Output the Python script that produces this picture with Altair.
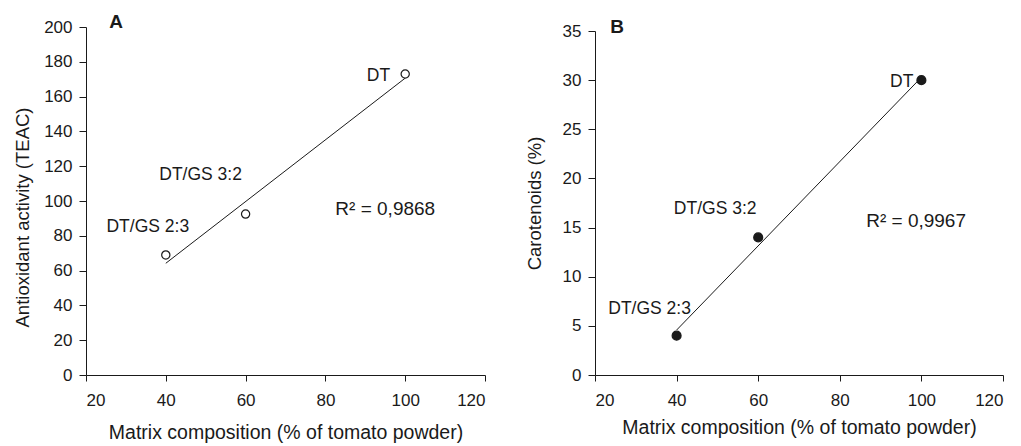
import altair as alt
import pandas as pd

samples = ["DT/GS 2:3", "DT/GS 3:2", "DT"]
tomato_pct = [40, 60, 100]
teac = [69, 92.5, 173]
carotenoids = [4, 14, 30]

x_ticks = [20, 40, 60, 80, 100, 120]
teac_ticks = [0, 20, 40, 60, 80, 100, 120, 140, 160, 180, 200]
car_ticks = [0, 5, 10, 15, 20, 25, 30, 35]

r2_a = "R² = 0,9868"
r2_b = "R² = 0,9967"

df = pd.DataFrame({"sample": samples, "pct": tomato_pct, "teac": teac, "car": carotenoids})

FONT = "Liberation Sans"
INK = "#1a1a1a"


def panel(ycol, ytitle, ydomain, yticks, letter, letter_pos, filled, r2text, r2pos,
          offsets, w, h, ytitle_pad, xtitle_pad, yrange, title_y=None):
    axis_kw = dict(values=yticks, title=ytitle, labelOverlap=False, titlePadding=ytitle_pad)
    if title_y is not None:
        axis_kw["titleY"] = title_y
    xenc = alt.X("pct:Q", scale=alt.Scale(domain=[20, 120], nice=False),
                 axis=alt.Axis(values=x_ticks, title="Matrix composition (% of tomato powder)",
                               labelOverlap=False, titlePadding=xtitle_pad))
    yenc = alt.Y(f"{ycol}:Q", scale=alt.Scale(domain=ydomain, nice=False, range=yrange),
                 axis=alt.Axis(**axis_kw))
    base = alt.Chart(df)
    line = base.transform_regression("pct", ycol).mark_line(
        color=INK, strokeWidth=1).encode(x=xenc, y=yenc)
    pts = base.mark_point(shape="circle", filled=True, size=80 if filled else 68,
                          fill=INK if filled else "white", stroke=INK,
                          strokeWidth=1.2, opacity=1).encode(x=xenc, y=yenc)
    layers = [line, pts]
    for s in samples:
        dx, dy, al = offsets[s]
        layers.append(
            base.transform_filter(alt.datum.sample == s).mark_text(
                dx=dx, dy=dy, align=al, baseline="middle", fontSize=17.5, font=FONT, color=INK
            ).encode(x=xenc, y=yenc, text="sample:N")
        )
    r2df = pd.DataFrame({"pct": [r2pos[0]], ycol: [r2pos[1]], "t": [r2text]})
    layers.append(alt.Chart(r2df).mark_text(fontSize=19, font=FONT, color=INK,
                                            align="center", baseline="middle").encode(
        x=xenc, y=yenc, text="t:N"))
    dummy = alt.Chart(pd.DataFrame({"k": [0]}))
    layers.append(dummy.mark_text(text=letter, fontSize=19, fontWeight="bold", font=FONT,
                                  color=INK, align="center", baseline="middle").encode(
        x=alt.value(letter_pos[0]), y=alt.value(letter_pos[1])))
    return alt.layer(*layers).properties(width=w, height=h)


a = panel("teac", "Antioxidant activity (TEAC)", [0, 200], teac_ticks, "A", (30, -5), False,
          r2_a, (95, 95.4),
          {"DT": (-15, 2, "right"), "DT/GS 3:2": (-45, -39, "center"), "DT/GS 2:3": (-18, -28, "center")},
          399, 348, ytitle_pad=11, xtitle_pad=15, yrange=[348, 0], title_y=190)
b = panel("car", "Carotenoids (%)", [0, 35], car_ticks, "B", (22, 0), True,
          r2_b, (98.7, 15.7),
          {"DT": (-8, 2, "right"), "DT/GS 3:2": (-43, -28, "center"), "DT/GS 2:3": (-27, -27, "center")},
          408, 348, ytitle_pad=18, xtitle_pad=10, yrange=[348, 4])

chart = alt.hconcat(a, b, spacing=39).configure(background="white").configure_view(
    stroke=None).configure_axis(
    grid=False, domainColor=INK, tickColor=INK, labelColor=INK, titleColor=INK,
    labelFont=FONT, titleFont=FONT, labelFontSize=17,
    titleFontWeight="normal"
).configure_axisX(tickSize=6, labelPadding=11, titleFontSize=19.5).configure_axisY(
    tickSize=7, labelPadding=7, titleFontSize=18.5)

chart.save("out.html", embed_options={"renderer": "svg", "actions": False})
